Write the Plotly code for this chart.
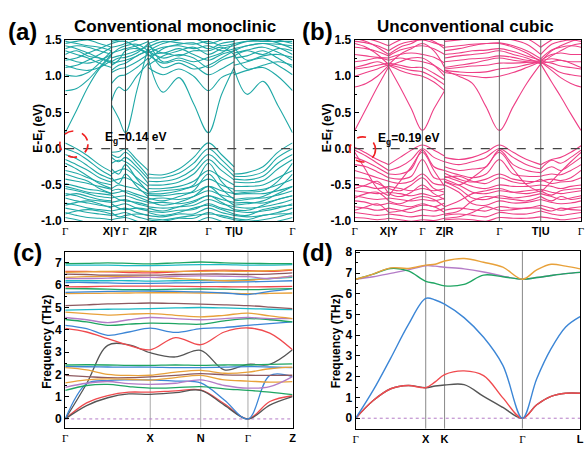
import plotly.graph_objects as go

# ================= panel (a): conventional monoclinic bands =================
a_seg_k = [[0.0, 0.05, 0.10, 0.15, 0.204],
           [0.204, 0.235, 0.265, 0.315, 0.365],
           [0.365, 0.43, 0.50, 0.565, 0.63, 0.687, 0.743],
           [0.743, 0.80, 0.87, 0.935, 1.0]]
a_ticks = [0.0, 0.204, 0.265, 0.365, 0.63, 0.743, 1.0]
a_labels = ["Γ", "X|Y", "Γ", "Z|R", "Γ", "T|U", "Γ"]
a_bands = [
    [0.22, 0.53, 0.85, 1.10, 1.28, 0.60, 0.42, 0.22, 0.80, 1.40, 1.25, 0.78, 0.98, 0.62, 0.22, 0.74, 1.12, 1.10, 0.75, 0.93, 0.60, 0.22],
    [0.80, 0.83, 0.95, 1.12, 1.30, 0.66, 0.85, 0.80, 1.00, 1.18, 1.12, 1.02, 1.10, 1.00, 0.80, 0.98, 1.05, 1.02, 1.08, 1.12, 1.00, 0.80],
    [1.02, 1.00, 1.05, 1.18, 1.35, 0.90, 1.00, 1.02, 1.12, 1.25, 1.30, 1.18, 1.22, 1.15, 1.02, 1.10, 1.20, 1.15, 1.20, 1.25, 1.15, 1.02],
    [1.12, 1.15, 1.22, 1.30, 1.40, 1.05, 1.10, 1.12, 1.20, 1.30, 1.35, 1.25, 1.30, 1.25, 1.12, 1.22, 1.28, 1.25, 1.28, 1.35, 1.25, 1.12],
    [1.22, 1.25, 1.32, 1.38, 1.45, 1.18, 1.20, 1.22, 1.28, 1.36, 1.42, 1.32, 1.38, 1.30, 1.22, 1.30, 1.35, 1.32, 1.36, 1.40, 1.33, 1.22],
    [1.30, 1.35, 1.28, 1.25, 1.20, 1.25, 1.28, 1.30, 1.35, 1.42, 1.15, 1.28, 1.35, 1.40, 1.30, 1.38, 1.42, 1.38, 1.42, 1.45, 1.40, 1.30],
    [1.38, 1.42, 1.40, 1.35, 1.30, 1.32, 1.35, 1.38, 1.42, 1.48, 1.22, 1.38, 1.44, 1.46, 1.38, 1.45, 1.48, 1.45, 1.48, 1.50, 1.46, 1.38],
    [1.45, 1.48, 1.50, 1.45, 1.40, 1.40, 1.42, 1.45, 1.50, 1.55, 1.35, 1.45, 1.50, 1.52, 1.45, 1.50, 1.55, 1.50, 1.52, 1.55, 1.50, 1.45],
    [1.50, 1.55, 1.58, 1.55, 1.50, 1.48, 1.50, 1.52, 1.56, 1.60, 1.45, 1.52, 1.56, 1.58, 1.52, 1.56, 1.60, 1.56, 1.58, 1.60, 1.56, 1.52],
    [1.15, 1.10, 1.08, 1.12, 1.22, 1.08, 1.15, 1.18, 1.28, 1.35, 1.38, 1.12, 1.18, 1.10, 1.15, 1.25, 1.35, 1.30, 1.10, 1.15, 1.20, 1.15],
    [1.25, 1.20, 1.18, 1.22, 1.30, 1.20, 1.25, 1.26, 1.32, 1.45, 1.48, 1.20, 1.25, 1.20, 1.26, 1.32, 1.45, 1.40, 1.22, 1.28, 1.30, 1.26],
    [1.35, 1.30, 1.25, 1.18, 1.12, 1.15, 1.22, 1.35, 1.38, 1.30, 1.28, 1.32, 1.28, 1.35, 1.35, 1.40, 1.30, 1.28, 1.35, 1.30, 1.38, 1.35],
    [1.42, 1.38, 1.32, 1.25, 1.18, 1.30, 1.38, 1.42, 1.44, 1.35, 1.32, 1.40, 1.42, 1.38, 1.42, 1.35, 1.38, 1.35, 1.42, 1.45, 1.44, 1.42],
    [1.48, 1.45, 1.42, 1.40, 1.35, 1.45, 1.48, 1.48, 1.40, 1.32, 1.40, 1.48, 1.46, 1.44, 1.48, 1.42, 1.45, 1.42, 1.48, 1.48, 1.48, 1.48],
    [0.08, 0.00, -0.10, -0.22, -0.32, -0.05, -0.04, 0.00, -0.15, -0.30, -0.35, -0.36, -0.28, -0.12, 0.08, -0.08, -0.25, -0.35, -0.33, -0.25, -0.05, 0.08],
    [0.00, -0.06, -0.16, -0.28, -0.38, -0.08, -0.12, -0.05, -0.20, -0.38, -0.40, -0.40, -0.34, -0.20, 0.00, -0.15, -0.32, -0.38, -0.38, -0.32, -0.12, 0.00],
    [-0.08, -0.14, -0.24, -0.35, -0.42, -0.12, -0.18, -0.12, -0.25, -0.42, -0.45, -0.45, -0.40, -0.28, -0.08, -0.22, -0.38, -0.42, -0.43, -0.38, -0.20, -0.08],
    [-0.15, -0.22, -0.30, -0.40, -0.46, -0.20, -0.16, -0.18, -0.30, -0.48, -0.50, -0.50, -0.46, -0.35, -0.15, -0.30, -0.43, -0.46, -0.47, -0.44, -0.28, -0.15],
    [-0.30, -0.34, -0.40, -0.46, -0.50, -0.35, -0.30, -0.28, -0.40, -0.52, -0.55, -0.55, -0.52, -0.45, -0.30, -0.40, -0.50, -0.52, -0.52, -0.50, -0.40, -0.30],
    [-0.42, -0.45, -0.48, -0.52, -0.56, -0.45, -0.42, -0.40, -0.48, -0.58, -0.60, -0.58, -0.56, -0.52, -0.42, -0.50, -0.56, -0.58, -0.58, -0.56, -0.50, -0.42],
    [-0.48, -0.52, -0.56, -0.58, -0.62, -0.55, -0.50, -0.52, -0.56, -0.62, -0.64, -0.65, -0.62, -0.60, -0.52, -0.58, -0.62, -0.63, -0.62, -0.62, -0.58, -0.52],
    [-0.55, -0.58, -0.62, -0.66, -0.68, -0.62, -0.60, -0.58, -0.63, -0.68, -0.70, -0.68, -0.70, -0.66, -0.58, -0.64, -0.68, -0.70, -0.68, -0.68, -0.64, -0.58],
    [-0.62, -0.65, -0.70, -0.72, -0.74, -0.68, -0.66, -0.65, -0.70, -0.74, -0.75, -0.74, -0.76, -0.72, -0.65, -0.70, -0.74, -0.75, -0.74, -0.75, -0.70, -0.65],
    [-0.68, -0.72, -0.75, -0.78, -0.80, -0.74, -0.72, -0.70, -0.76, -0.80, -0.80, -0.82, -0.80, -0.78, -0.70, -0.76, -0.80, -0.80, -0.82, -0.80, -0.76, -0.70],
    [-0.75, -0.78, -0.82, -0.84, -0.86, -0.80, -0.78, -0.76, -0.82, -0.86, -0.86, -0.88, -0.85, -0.84, -0.76, -0.82, -0.86, -0.86, -0.88, -0.86, -0.82, -0.76],
    [-0.82, -0.85, -0.88, -0.90, -0.92, -0.86, -0.84, -0.82, -0.88, -0.92, -0.92, -0.94, -0.90, -0.90, -0.82, -0.88, -0.92, -0.92, -0.94, -0.92, -0.88, -0.82],
    [-0.88, -0.92, -0.95, -0.96, -0.98, -0.92, -0.90, -0.88, -0.94, -0.98, -0.98, -1.00, -0.96, -0.96, -0.88, -0.94, -0.98, -0.98, -1.00, -0.98, -0.94, -0.88],
    [-0.95, -0.98, -1.02, -1.04, -1.05, -0.98, -0.96, -0.95, -1.00, -1.04, -1.04, -1.06, -1.02, -1.02, -0.95, -1.00, -1.04, -1.04, -1.06, -1.04, -1.00, -0.95],
    [-0.20, -0.28, -0.38, -0.48, -0.55, -0.28, -0.35, -0.22, -0.42, -0.60, -0.62, -0.62, -0.58, -0.50, -0.20, -0.45, -0.62, -0.62, -0.60, -0.58, -0.45, -0.20],
    [-0.35, -0.40, -0.45, -0.55, -0.62, -0.40, -0.48, -0.35, -0.52, -0.66, -0.68, -0.72, -0.66, -0.58, -0.35, -0.55, -0.70, -0.72, -0.70, -0.66, -0.55, -0.35],
    [-0.52, -0.56, -0.60, -0.62, -0.64, -0.58, -0.56, -0.60, -0.66, -0.72, -0.72, -0.78, -0.74, -0.66, -0.52, -0.66, -0.78, -0.78, -0.76, -0.72, -0.62, -0.52],
    [-0.65, -0.62, -0.66, -0.70, -0.72, -0.64, -0.70, -0.72, -0.74, -0.78, -0.82, -0.86, -0.80, -0.74, -0.65, -0.74, -0.84, -0.84, -0.85, -0.78, -0.70, -0.65],
    [-0.78, -0.74, -0.72, -0.76, -0.82, -0.76, -0.82, -0.84, -0.82, -0.84, -0.88, -0.92, -0.88, -0.82, -0.78, -0.84, -0.90, -0.90, -0.92, -0.84, -0.80, -0.78],
    [-0.90, -0.86, -0.84, -0.86, -0.90, -0.88, -0.94, -0.92, -0.90, -0.92, -0.96, -0.98, -0.95, -0.92, -0.90, -0.92, -0.96, -0.96, -0.98, -0.92, -0.90, -0.90],
]

# ================= panel (b): unconventional cubic bands =================
b_seg_k = [[0.0, 0.05, 0.10, 0.150],
           [0.150, 0.20, 0.25, 0.299, 0.35, 0.397],
           [0.397, 0.46, 0.52, 0.58, 0.639, 0.70, 0.76, 0.822],
           [0.822, 0.87, 0.91, 0.955, 1.0]]
b_ticks = [0.0, 0.150, 0.299, 0.397, 0.639, 0.822, 1.0]
b_labels = ["Γ", "X|Y", "Γ", "Z|R", "Γ", "T|U", "Γ"]
b_bands = [
    [0.25, 0.55, 0.85, 1.13, 1.13, 0.85, 0.55, 0.25, 0.55, 0.80, 1.08, 1.00, 0.90, 0.58, 0.25, 0.58, 0.90, 1.17, 1.17, 0.92, 0.72, 0.48, 0.25],
    [0.85, 0.90, 1.00, 1.15, 1.15, 1.08, 1.03, 1.00, 0.92, 0.80, 1.05, 1.02, 1.00, 0.98, 1.00, 1.05, 1.12, 1.20, 1.20, 1.08, 0.98, 0.90, 0.85],
    [1.00, 1.05, 1.10, 1.16, 1.16, 1.12, 1.08, 1.06, 0.98, 0.88, 1.08, 1.06, 1.05, 1.06, 1.10, 1.12, 1.16, 1.20, 1.20, 1.12, 1.05, 1.02, 1.00],
    [1.10, 1.12, 1.15, 1.18, 1.18, 1.15, 1.12, 1.12, 1.04, 0.95, 1.10, 1.12, 1.14, 1.15, 1.18, 1.18, 1.19, 1.21, 1.21, 1.18, 1.14, 1.12, 1.10],
    [1.20, 1.22, 1.25, 1.22, 1.22, 1.25, 1.22, 1.20, 1.15, 1.05, 1.20, 1.22, 1.24, 1.25, 1.28, 1.26, 1.22, 1.21, 1.21, 1.24, 1.22, 1.20, 1.20],
    [1.30, 1.28, 1.26, 1.25, 1.25, 1.30, 1.32, 1.30, 1.26, 1.18, 1.30, 1.32, 1.35, 1.36, 1.38, 1.34, 1.28, 1.22, 1.22, 1.30, 1.32, 1.30, 1.30],
    [1.40, 1.38, 1.34, 1.28, 1.28, 1.36, 1.40, 1.42, 1.38, 1.30, 1.40, 1.42, 1.44, 1.45, 1.46, 1.42, 1.35, 1.24, 1.24, 1.36, 1.40, 1.42, 1.40],
    [1.48, 1.46, 1.42, 1.35, 1.35, 1.44, 1.48, 1.50, 1.46, 1.42, 1.48, 1.50, 1.52, 1.52, 1.52, 1.50, 1.44, 1.30, 1.30, 1.44, 1.48, 1.50, 1.48],
    [1.55, 1.52, 1.48, 1.42, 1.42, 1.50, 1.55, 1.56, 1.54, 1.50, 1.55, 1.56, 1.58, 1.58, 1.58, 1.56, 1.52, 1.40, 1.40, 1.50, 1.55, 1.56, 1.55],
    [1.12, 1.16, 1.20, 1.14, 1.14, 1.20, 1.25, 1.25, 1.15, 1.00, 1.12, 1.15, 1.18, 1.22, 1.25, 1.22, 1.20, 1.18, 1.18, 1.20, 1.22, 1.18, 1.12],
    [1.45, 1.40, 1.30, 1.16, 1.16, 1.30, 1.38, 1.45, 1.35, 1.12, 1.25, 1.28, 1.30, 1.32, 1.35, 1.30, 1.25, 1.17, 1.17, 1.28, 1.35, 1.42, 1.45],
    [1.52, 1.48, 1.40, 1.30, 1.30, 1.40, 1.45, 1.52, 1.48, 1.38, 1.35, 1.38, 1.42, 1.45, 1.45, 1.40, 1.32, 1.20, 1.20, 1.35, 1.42, 1.48, 1.52],
    [0.02, -0.06, -0.15, -0.22, -0.22, -0.12, -0.02, 0.05, -0.02, -0.10, -0.12, -0.15, -0.12, -0.05, 0.05, -0.05, -0.15, -0.22, -0.22, -0.15, -0.12, -0.05, 0.04],
    [-0.02, -0.10, -0.20, -0.30, -0.30, -0.25, -0.15, 0.00, -0.12, -0.18, -0.18, -0.22, -0.18, -0.12, 0.00, -0.12, -0.22, -0.28, -0.28, -0.16, -0.20, -0.12, -0.02],
    [-0.12, -0.18, -0.26, -0.35, -0.35, -0.35, -0.28, -0.02, -0.25, -0.30, -0.25, -0.30, -0.28, -0.25, -0.02, -0.22, -0.30, -0.33, -0.33, -0.25, -0.30, -0.22, -0.12],
    [-0.22, -0.25, -0.32, -0.40, -0.40, -0.42, -0.38, -0.15, -0.40, -0.42, -0.30, -0.36, -0.40, -0.35, -0.15, -0.35, -0.38, -0.38, -0.38, -0.35, -0.36, -0.30, -0.22],
    [-0.30, -0.35, -0.40, -0.45, -0.45, -0.48, -0.45, -0.35, -0.48, -0.50, -0.34, -0.42, -0.46, -0.42, -0.35, -0.42, -0.45, -0.45, -0.45, -0.42, -0.44, -0.40, -0.30],
    [-0.05, -0.30, -0.55, -0.65, -0.65, -0.45, -0.25, -0.05, -0.30, -0.52, -0.45, -0.50, -0.40, -0.25, -0.05, -0.28, -0.50, -0.60, -0.60, -0.45, -0.32, -0.18, -0.05],
    [-0.50, -0.52, -0.55, -0.52, -0.52, -0.55, -0.58, -0.55, -0.58, -0.55, -0.38, -0.45, -0.52, -0.55, -0.50, -0.52, -0.52, -0.50, -0.50, -0.52, -0.55, -0.52, -0.50],
    [-0.58, -0.60, -0.62, -0.60, -0.60, -0.62, -0.65, -0.62, -0.66, -0.62, -0.42, -0.50, -0.60, -0.62, -0.58, -0.60, -0.58, -0.56, -0.56, -0.60, -0.62, -0.60, -0.58],
    [-0.65, -0.68, -0.70, -0.68, -0.68, -0.70, -0.72, -0.70, -0.72, -0.68, -0.46, -0.55, -0.68, -0.70, -0.65, -0.68, -0.66, -0.62, -0.62, -0.66, -0.70, -0.68, -0.65],
    [-0.72, -0.74, -0.78, -0.75, -0.75, -0.78, -0.80, -0.76, -0.80, -0.75, -0.50, -0.60, -0.76, -0.78, -0.72, -0.75, -0.74, -0.70, -0.70, -0.74, -0.76, -0.75, -0.72],
    [-0.80, -0.82, -0.85, -0.82, -0.82, -0.85, -0.88, -0.84, -0.86, -0.82, -0.85, -0.82, -0.84, -0.86, -0.80, -0.82, -0.82, -0.78, -0.78, -0.82, -0.85, -0.82, -0.80],
    [-0.88, -0.90, -0.92, -0.90, -0.90, -0.92, -0.94, -0.92, -0.93, -0.90, -0.92, -0.90, -0.92, -0.94, -0.88, -0.90, -0.90, -0.86, -0.86, -0.90, -0.92, -0.90, -0.88],
    [-0.95, -0.96, -0.98, -0.96, -0.96, -0.98, -1.00, -0.98, -0.99, -0.96, -0.98, -0.97, -0.98, -1.00, -0.95, -0.96, -0.96, -0.94, -0.94, -0.96, -0.98, -0.97, -0.95],
    [-1.02, -1.03, -1.05, -1.03, -1.03, -1.05, -1.06, -1.04, -1.05, -1.02, -1.03, -1.02, -1.05, -1.06, -1.02, -1.03, -1.03, -1.01, -1.01, -1.03, -1.05, -1.04, -1.02],
    [-0.40, -0.42, -0.48, -0.55, -0.55, -0.58, -0.50, -0.40, -0.55, -0.60, -0.40, -0.38, -0.45, -0.48, -0.40, -0.46, -0.48, -0.42, -0.42, -0.48, -0.46, -0.45, -0.40],
    [-0.55, -0.50, -0.45, -0.62, -0.62, -0.66, -0.60, -0.50, -0.62, -0.70, -0.80, -0.72, -0.62, -0.58, -0.55, -0.60, -0.62, -0.58, -0.58, -0.64, -0.58, -0.56, -0.55],
    [-0.68, -0.62, -0.60, -0.72, -0.72, -0.76, -0.70, -0.66, -0.70, -0.80, -0.90, -0.86, -0.72, -0.66, -0.68, -0.70, -0.72, -0.66, -0.66, -0.72, -0.66, -0.70, -0.68],
    [-0.85, -0.80, -0.76, -0.88, -0.88, -0.86, -0.82, -0.78, -0.80, -0.88, -0.96, -0.94, -0.88, -0.80, -0.85, -0.84, -0.82, -0.82, -0.82, -0.86, -0.82, -0.84, -0.85],
]

# ================= panel (c): phonons of the monoclinic cell =================
c_k = [0.0, 0.094, 0.187, 0.28, 0.374, 0.485, 0.596, 0.70, 0.804, 0.90, 1.0]
c_ticks = [0.0, 0.374, 0.596, 0.804, 1.0]
c_labels = ["Γ", "X", "N", "Γ", "Z"]
c_bands = [
    [0.00, 0.72, 1.05, 1.20, 1.20, 1.26, 1.30, 0.68, 0.00, 0.78, 1.04],
    [0.00, 0.60, 0.95, 1.12, 1.10, 1.18, 1.28, 0.62, 0.00, 0.62, 1.00],
    [0.00, 1.58, 3.30, 3.32, 2.97, 2.78, 3.08, 2.20, 2.45, 2.45, 3.10],
    [0.00, 1.58, 1.72, 1.75, 1.75, 1.70, 1.62, 0.85, 0.00, 1.95, 1.90],
    [2.42, 2.43, 2.42, 2.40, 2.40, 2.42, 2.40, 2.42, 2.42, 2.45, 2.47],
    [2.35, 2.34, 2.33, 2.32, 2.32, 2.30, 2.30, 2.32, 2.35, 2.33, 2.30],
    [2.30, 2.20, 2.00, 1.95, 1.96, 2.10, 2.18, 2.05, 2.10, 2.25, 2.32],
    [1.95, 1.90, 1.85, 1.85, 1.89, 1.95, 2.03, 1.98, 1.96, 1.95, 1.96],
    [1.62, 1.75, 1.80, 1.78, 1.74, 1.85, 1.95, 1.75, 1.70, 1.65, 1.67],
    [1.42, 1.60, 1.68, 1.58, 1.55, 1.60, 1.75, 1.50, 1.38, 1.45, 1.90],
    [1.28, 1.50, 1.55, 1.45, 1.38, 1.40, 1.45, 1.35, 1.28, 1.20, 1.09],
    [4.06, 3.90, 3.60, 3.30, 3.10, 3.65, 3.33, 3.90, 4.08, 3.85, 3.10],
    [4.20, 4.05, 3.75, 3.90, 4.07, 3.88, 4.05, 4.10, 4.20, 4.28, 4.35],
    [4.46, 4.35, 4.20, 4.25, 4.30, 4.28, 4.25, 4.40, 4.50, 4.45, 4.35],
    [4.55, 4.45, 4.32, 4.45, 4.55, 4.50, 4.45, 4.50, 4.55, 4.50, 4.50],
    [4.79, 4.72, 4.66, 4.70, 4.72, 4.65, 4.58, 4.65, 4.75, 4.62, 4.50],
    [4.88, 4.90, 4.92, 4.93, 4.95, 4.98, 5.00, 4.98, 4.95, 4.92, 4.90],
    [5.08, 5.12, 5.16, 5.18, 5.20, 5.18, 5.15, 5.12, 5.08, 5.02, 4.95],
    [5.62, 5.63, 5.64, 5.65, 5.66, 5.66, 5.65, 5.64, 5.62, 5.63, 5.65],
    [5.68, 5.70, 5.72, 5.73, 5.74, 5.72, 5.70, 5.65, 5.58, 5.72, 5.85],
    [5.85, 5.84, 5.82, 5.80, 5.80, 5.82, 5.83, 5.82, 5.80, 5.82, 5.85],
    [5.92, 5.93, 5.95, 5.96, 5.96, 5.95, 5.94, 5.93, 5.92, 5.93, 5.95],
    [6.12, 6.12, 6.10, 6.08, 6.08, 6.10, 6.12, 6.14, 6.15, 6.17, 6.20],
    [6.20, 6.20, 6.20, 6.20, 6.18, 6.20, 6.22, 6.22, 6.25, 6.30, 6.35],
    [6.35, 6.38, 6.40, 6.38, 6.35, 6.30, 6.25, 6.20, 6.22, 6.30, 6.40],
    [6.30, 6.30, 6.32, 6.35, 6.35, 6.40, 6.42, 6.40, 6.38, 6.30, 6.42],
    [6.50, 6.48, 6.45, 6.45, 6.45, 6.48, 6.50, 6.50, 6.48, 6.50, 6.55],
    [6.62, 6.62, 6.60, 6.57, 6.55, 6.60, 6.65, 6.68, 6.65, 6.62, 6.68],
    [6.58, 6.60, 6.62, 6.63, 6.62, 6.62, 6.62, 6.63, 6.62, 6.65, 6.70],
    [6.90, 6.90, 6.90, 6.88, 6.88, 6.90, 6.92, 6.92, 6.90, 6.90, 6.92],
    [6.97, 6.98, 7.00, 6.98, 6.96, 7.00, 7.04, 7.00, 6.98, 6.97, 6.97],
]
c_zero = [0.0] * len(c_k)

# ================= panel (d): phonons of the cubic cell =================
d_k = [0.0, 0.078, 0.156, 0.234, 0.312, 0.354, 0.396, 0.483, 0.57, 0.656, 0.743, 0.807, 0.871, 0.936, 1.0]
d_ticks = [0.0, 0.312, 0.396, 0.743, 1.0]
d_labels = ["Γ", "X", "K", "Γ", "L"]
d_gray = [0.0, 0.85, 1.42, 1.58, 1.47, 1.55, 1.60, 1.62, 1.05, 0.52, 0.0, 0.65, 1.05, 1.20, 1.20]
d_red = [0.0, 0.85, 1.42, 1.58, 1.47, 1.75, 2.10, 2.28, 2.05, 0.98, 0.0, 0.65, 1.05, 1.20, 1.20]
d_blue = [0.0, 1.35, 2.90, 4.50, 5.78, 5.70, 5.50, 4.85, 3.90, 2.55, 0.0, 1.90, 3.35, 4.40, 4.90]
d_purple = [6.70, 6.82, 6.98, 7.15, 7.35, 7.33, 7.28, 7.20, 7.05, 6.85, 6.70, 6.78, 6.88, 6.97, 7.03]
d_green = [6.70, 6.95, 7.22, 7.10, 6.60, 6.50, 6.38, 6.45, 6.90, 6.82, 6.70, 6.78, 6.88, 6.97, 7.03]
d_gold = [6.70, 6.95, 7.25, 7.22, 7.38, 7.42, 7.58, 7.70, 7.52, 7.28, 6.70, 7.15, 7.42, 7.33, 7.20]
d_zero = [0.0] * len(d_k)

# ---------------- styling ----------------
TEAL = "#1FA8A6"
PINK = "#EE3F86"
GRAY = "#555555"
RED = "#F04A4E"
BLUE = "#3C86D6"
GREEN = "#1FA562"
PURPLE = "#B47CC7"
ORANGE = "#E8A13A"
CYAN = "#1CB9C6"
BROWN = "#8E5A60"
c_colors = [RED, GRAY, GRAY, BLUE, GREEN, BLUE, ORANGE, BROWN, ORANGE, PURPLE, GREEN,
            RED, BLUE, GREEN, PURPLE, ORANGE, CYAN, BROWN,
            ORANGE, BLUE, GREEN, RED, BLUE, CYAN, ORANGE, PURPLE, BROWN, RED, ORANGE, CYAN, GREEN]

FONT = "Arial, Liberation Sans, sans-serif"
SERIF = "Times New Roman, Liberation Serif, serif"


def seg_xy(seg_k, vals):
    xs, ys, i = [], [], 0
    for n, seg in enumerate(seg_k):
        if n:
            xs.append(None)
            ys.append(None)
        xs.extend(seg)
        ys.extend(vals[i:i + len(seg)])
        i += len(seg)
    return xs, ys


def ticktext(labels):
    return ["<span style='font-family:%s;font-weight:normal'>Γ</span>" % SERIF if t == "Γ" else t for t in labels]


fig = go.Figure()

for vals in a_bands:
    xs, ys = seg_xy(a_seg_k, vals)
    fig.add_trace(go.Scatter(x=xs, y=ys, mode="lines", line=dict(color=TEAL, width=1.1, shape="spline"),
                             xaxis="x", yaxis="y", showlegend=False, hoverinfo="skip"))
for vals in b_bands:
    xs, ys = seg_xy(b_seg_k, vals)
    fig.add_trace(go.Scatter(x=xs, y=ys, mode="lines", line=dict(color=PINK, width=1.1, shape="spline"),
                             xaxis="x2", yaxis="y2", showlegend=False, hoverinfo="skip"))
fig.add_trace(go.Scatter(x=c_k, y=c_zero, mode="lines", line=dict(color=PURPLE, width=1, dash="dot"),
                         xaxis="x3", yaxis="y3", showlegend=False, hoverinfo="skip"))
for vals, col in zip(c_bands, c_colors):
    fig.add_trace(go.Scatter(x=c_k, y=vals, mode="lines", line=dict(color=col, width=1.3, shape="spline"),
                             xaxis="x3", yaxis="y3", showlegend=False, hoverinfo="skip"))
fig.add_trace(go.Scatter(x=d_k, y=d_zero, mode="lines", line=dict(color=PURPLE, width=1, dash="dot"),
                         xaxis="x4", yaxis="y4", showlegend=False, hoverinfo="skip"))
for vals, col in [(d_gray, GRAY), (d_red, RED), (d_blue, BLUE), (d_purple, PURPLE), (d_green, GREEN), (d_gold, ORANGE)]:
    fig.add_trace(go.Scatter(x=d_k, y=vals, mode="lines", line=dict(color=col, width=1.4, shape="spline"),
                             xaxis="x4", yaxis="y4", showlegend=False, hoverinfo="skip"))

W, H = 587, 454


def xdom(l, r):
    return [l / W, r / W]


def ydom(t, b):
    return [1 - b / H, 1 - t / H]


common_x = dict(range=[0, 1], showgrid=False, zeroline=False, showline=True, linecolor="black", linewidth=1.2,
                mirror=True, ticks="", tickangle=0,
                tickfont=dict(family=FONT, size=11, color="black", weight="bold"))
common_y = dict(showgrid=False, zeroline=False, showline=True, linecolor="black", linewidth=1.2, mirror=True,
                ticks="inside", ticklen=4, tickcolor="black",
                tickfont=dict(family=FONT, size=12, color="black", weight="bold"))
ev_ticks = [-1.0, -0.5, 0.0, 0.5, 1.0, 1.5]
ev_text = ["-1.0", "-0.5", "0.0", "0.5", "1.0", "1.5"]

layout = dict(width=W, height=H, margin=dict(l=0, r=0, t=0, b=0), paper_bgcolor="white", plot_bgcolor="white",
              showlegend=False)
layout["xaxis"] = dict(common_x, domain=xdom(63, 293), anchor="y", tickvals=a_ticks, ticktext=ticktext(a_labels))
layout["yaxis"] = dict(common_y, domain=ydom(34, 221), anchor="x", range=[-1.0, 1.5], tickvals=ev_ticks,
                       ticktext=ev_text, minor=dict(dtick=0.25, ticks="inside", ticklen=2, tickcolor="black"))
layout["xaxis2"] = dict(common_x, domain=xdom(356, 585), anchor="y2", tickvals=b_ticks, ticktext=ticktext(b_labels))
layout["yaxis2"] = dict(common_y, domain=ydom(34, 221), anchor="x2", range=[-1.0, 1.5], tickvals=ev_ticks,
                        ticktext=ev_text, minor=dict(dtick=0.25, ticks="inside", ticklen=2, tickcolor="black"))
layout["xaxis3"] = dict(common_x, domain=xdom(63, 293), anchor="y3", tickvals=c_ticks, ticktext=ticktext(c_labels))
layout["yaxis3"] = dict(common_y, domain=ydom(253, 434), anchor="x3", range=[-0.39, 7.48], dtick=1,
                        minor=dict(dtick=0.5, ticks="inside", ticklen=2, tickcolor="black"))
layout["xaxis4"] = dict(common_x, domain=xdom(357, 584), anchor="y4", tickvals=d_ticks, ticktext=ticktext(d_labels))
layout["yaxis4"] = dict(common_y, domain=ydom(252, 435), anchor="x4", range=[-0.5, 8.05], dtick=1,
                        minor=dict(dtick=0.5, ticks="inside", ticklen=2, tickcolor="black"))

shapes = []
for t in a_ticks[1:-1]:
    shapes.append(dict(type="line", xref="x", yref="y domain", x0=t, x1=t, y0=0, y1=1, line=dict(color="#333333", width=1)))
for t in b_ticks[1:-1]:
    shapes.append(dict(type="line", xref="x2", yref="y2 domain", x0=t, x1=t, y0=0, y1=1, line=dict(color="#666666", width=1)))
for t in c_ticks[1:-1]:
    shapes.append(dict(type="line", xref="x3", yref="y3 domain", x0=t, x1=t, y0=0, y1=1, line=dict(color="#AAAAAA", width=1), layer="below"))
for t in d_ticks[1:-1]:
    shapes.append(dict(type="line", xref="x4", yref="y4 domain", x0=t, x1=t, y0=0, y1=1, line=dict(color="#888888", width=1), layer="below"))
# Fermi level
shapes.append(dict(type="line", xref="x domain", yref="y", x0=0, x1=1, y0=0, y1=0, line=dict(color="#444444", width=1.3, dash="dash")))
shapes.append(dict(type="line", xref="x2 domain", yref="y2", x0=0, x1=1, y0=0, y1=0, line=dict(color="#444444", width=1.3, dash="dash")))
# red dashed circles marking the gap (paper coordinates so they may cross the frame)
shapes.append(dict(type="circle", xref="paper", yref="paper", x0=57.5 / W, x1=86 / W, y0=1 - 155 / H, y1=1 - 128 / H,
                   line=dict(color="#F02020", width=1.6, dash="dash")))
shapes.append(dict(type="circle", xref="paper", yref="paper", x0=351 / W, x1=377 / W, y0=1 - 160 / H, y1=1 - 134 / H,
                   line=dict(color="#F02020", width=1.6, dash="dash")))
layout["shapes"] = shapes

B = dict(family=FONT, color="black", weight="bold")
ann = [
    dict(text="Conventional monoclinic", x=174 / W, y=1 - 20 / H, font=dict(B, size=17)),
    dict(text="Unconventional cubic", x=468 / W, y=1 - 20 / H, font=dict(B, size=17)),
    dict(text="(a)", x=20 / W, y=1 - 25 / H, font=dict(B, size=24)),
    dict(text="(b)", x=318 / W, y=1 - 25 / H, font=dict(B, size=24)),
    dict(text="(c)", x=25 / W, y=1 - 253 / H, font=dict(B, size=24)),
    dict(text="(d)", x=318 / W, y=1 - 253 / H, font=dict(B, size=24)),
    dict(text="E-E<sub>f</sub> (eV)", x=37 / W, y=1 - 125 / H, textangle=-90, font=dict(B, size=12)),
    dict(text="E-E<sub>f</sub> (eV)", x=329 / W, y=1 - 125 / H, textangle=-90, font=dict(B, size=12)),
    dict(text="Frequency (THz)", x=45 / W, y=1 - 345 / H, textangle=-90, font=dict(B, size=12)),
    dict(text="Frequency (THz)", x=337 / W, y=1 - 345 / H, textangle=-90, font=dict(B, size=12)),
]
for a in ann:
    a.update(xref="paper", yref="paper", showarrow=False, xanchor="center", yanchor="middle")
ann.append(dict(text="E<sub>g</sub>=0.14 eV", xref="x", yref="y", x=0.165, y=0.15, xanchor="left", yanchor="middle",
                showarrow=False, font=dict(B, size=12)))
ann.append(dict(text="E<sub>g</sub>=0.19 eV", xref="x2", yref="y2", x=0.092, y=0.14, xanchor="left", yanchor="middle",
                showarrow=False, font=dict(B, size=12)))
layout["annotations"] = ann

fig.update_layout(**layout)
fig.write_html("out.html", config={"displayModeBar": False},
               post_script="document.body.style.margin='0';document.body.style.overflow='hidden';")
